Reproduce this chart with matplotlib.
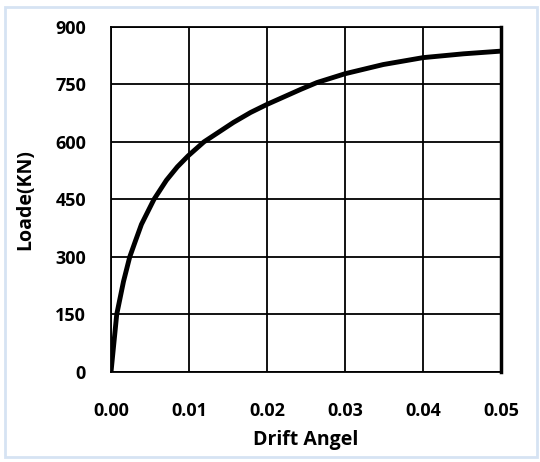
import matplotlib
matplotlib.use('Agg')
from matplotlib import pyplot as plt
from matplotlib.patches import Rectangle

drift = [0, 0.00073, 0.0016, 0.0024, 0.0031, 0.0039, 0.0055, 0.0071, 0.0085, 0.0099, 0.0119,
         0.0157, 0.0179, 0.02, 0.0243, 0.0264, 0.03, 0.0349, 0.04, 0.0452, 0.05]
load = [0, 150, 236, 300, 340, 385, 450, 500, 535, 564, 600,
        651, 677, 698, 737, 755, 778, 802, 820, 830, 837]
xticks = [0, 0.01, 0.02, 0.03, 0.04, 0.05]
yticks = [0, 150, 300, 450, 600, 750, 900]

plt.rcParams['font.family'] = ['Open Sans', 'DejaVu Sans']
fig = plt.figure(figsize=(5.4, 4.62), dpi=100)
ax = fig.add_axes([0.2056, 0.195, 0.7222, 0.7466])
ax.plot(drift, load, color='black', lw=3.5, solid_capstyle='butt', solid_joinstyle='round')
ax.set_xlim(0, 0.05)
ax.set_ylim(0, 900)
ax.set_xticks(xticks)
ax.set_xticklabels(['%.2f' % t for t in xticks])
ax.set_yticks(yticks)
ax.grid(True, color='black', lw=1.3)
for s in ax.spines.values():
    s.set_color('black')
    s.set_linewidth(1.3)
ax.spines['right'].set_linewidth(2.5)
ax.tick_params(length=0, labelsize=13, pad=18)
ax.tick_params(axis='x', pad=22)
for lab in ax.get_xticklabels() + ax.get_yticklabels():
    lab.set_fontweight('bold')
ax.set_xlabel('Drift Angel', fontsize=14, fontweight='bold', labelpad=7)
ax.set_ylabel('Loade(KN)', fontsize=14, fontweight='bold', labelpad=14)
fig.patches.append(Rectangle((0.01, 0.01), 0.985, 0.975, transform=fig.transFigure,
                             fill=False, edgecolor='#d6e3f3', lw=2))
fig.savefig('out.png', dpi=100)
